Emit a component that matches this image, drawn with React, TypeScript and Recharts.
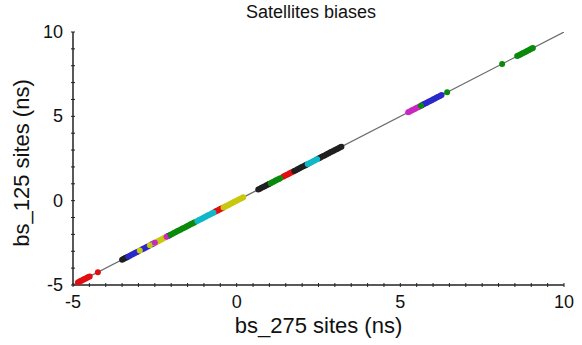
import { ScatterChart, Scatter, XAxis, YAxis } from 'recharts'

// bias pairs (bs_275, bs_125) in ns, grouped by marker colour
const redPts = [
  [-4.85, -4.85], [-4.81, -4.81], [-4.77, -4.77], [-4.73, -4.73], [-4.69, -4.69], [-4.65, -4.65],
  [-4.61, -4.61], [-4.57, -4.57], [-4.53, -4.53], [-4.49, -4.49], [-4.24, -4.24],
  [-0.66, -0.66], [-0.62, -0.62], [-0.58, -0.58], [-0.54, -0.54], [-0.5, -0.5], [-0.46, -0.46], [-0.42, -0.42],
  [1.42, 1.42], [1.47, 1.47], [1.52, 1.52], [1.57, 1.57], [1.62, 1.62], [1.67, 1.67], [1.72, 1.72],
]
const blackPts = [
  [-3.5, -3.5], [-3.46, -3.46], [-3.42, -3.42], [-3.38, -3.38], [-3.34, -3.34],
  [0.66, 0.66], [0.71, 0.71], [0.76, 0.76], [0.81, 0.81], [0.86, 0.86], [0.91, 0.91], [0.96, 0.96], [1.0, 1.0],
  [1.76, 1.76], [1.81, 1.81], [1.86, 1.86], [1.91, 1.91], [1.96, 1.96], [2.01, 2.01], [2.06, 2.06], [2.11, 2.11], [2.15, 2.15],
  [2.5, 2.5], [2.55, 2.55], [2.6, 2.6], [2.65, 2.65], [2.7, 2.7], [2.75, 2.75], [2.8, 2.8], [2.85, 2.85],
  [2.9, 2.9], [2.95, 2.95], [3.0, 3.0], [3.05, 3.05], [3.1, 3.1], [3.15, 3.15], [3.2, 3.2],
]
const bluePts = [
  [-3.31, -3.31], [-3.26, -3.26], [-3.21, -3.21], [-3.16, -3.16], [-3.11, -3.11], [-3.06, -3.06], [-3.01, -3.01],
  [-2.9, -2.9], [-2.85, -2.85], [-2.8, -2.8], [-2.75, -2.75], [-2.7, -2.7], [-2.6, -2.6], [-2.56, -2.56],
  [-2.1, -2.1], [-2.06, -2.06],
  [5.66, 5.66], [5.71, 5.71], [5.76, 5.76], [5.81, 5.81], [5.86, 5.86], [5.91, 5.91], [5.96, 5.96],
  [6.01, 6.01], [6.06, 6.06], [6.11, 6.11], [6.16, 6.16], [6.21, 6.21], [6.26, 6.26],
]
const yellowPts = [
  [-2.96, -2.96], [-2.65, -2.65],
  [-2.52, -2.52], [-2.47, -2.47], [-2.42, -2.42], [-2.37, -2.37], [-2.32, -2.32], [-2.27, -2.27], [-2.22, -2.22], [-2.17, -2.17],
  [-0.4, -0.4], [-0.35, -0.35], [-0.3, -0.3], [-0.25, -0.25], [-0.2, -0.2], [-0.15, -0.15], [-0.1, -0.1],
  [-0.05, -0.05], [0.0, 0.0], [0.05, 0.05], [0.1, 0.1], [0.15, 0.15], [0.2, 0.2],
]
const magentaPts = [
  [-2.5, -2.5], [-2.14, -2.14],
  [5.24, 5.24], [5.29, 5.29], [5.34, 5.34], [5.39, 5.39], [5.44, 5.44], [5.49, 5.49], [5.54, 5.54], [5.59, 5.59],
]
const greenPts = [
  [-2.02, -2.02], [-1.97, -1.97], [-1.92, -1.92], [-1.87, -1.87], [-1.82, -1.82], [-1.77, -1.77], [-1.72, -1.72],
  [-1.67, -1.67], [-1.62, -1.62], [-1.57, -1.57], [-1.52, -1.52], [-1.47, -1.47], [-1.42, -1.42], [-1.37, -1.37],
  [-1.32, -1.32], [-1.28, -1.28],
  [1.04, 1.04], [1.09, 1.09], [1.14, 1.14], [1.19, 1.19], [1.24, 1.24], [1.29, 1.29], [1.33, 1.33],
  [5.63, 5.63], [6.43, 6.43], [8.11, 8.11],
  [8.57, 8.57], [8.62, 8.62], [8.67, 8.67], [8.72, 8.72], [8.77, 8.77], [8.82, 8.82], [8.87, 8.87],
  [8.92, 8.92], [8.97, 8.97], [9.02, 9.02], [9.05, 9.05],
]
const cyanPts = [
  [-1.2, -1.2], [-1.15, -1.15], [-1.1, -1.1], [-1.05, -1.05], [-1.0, -1.0], [-0.95, -0.95], [-0.9, -0.9],
  [-0.85, -0.85], [-0.8, -0.8], [-0.75, -0.75], [-0.71, -0.71],
  [2.17, 2.17], [2.22, 2.22], [2.27, 2.27], [2.32, 2.32], [2.37, 2.37], [2.42, 2.42], [2.46, 2.46],
]
const diagonal = [[-5, -5], [10, 10]]

const xLabelTicks = [-5, 0, 5, 10]
const yLabelTicks = [-5, 0, 5, 10]
const xMinorTicks = [
  -5, -4.5, -4, -3.5, -3, -2.5, -2, -1.5, -1, -0.5, 0, 0.5, 1, 1.5, 2, 2.5, 3, 3.5, 4, 4.5,
  5, 5.5, 6, 6.5, 7, 7.5, 8, 8.5, 9, 9.5, 10,
]
const yMinorTicks = [-5, -4, -3, -2, -1, 0, 1, 2, 3, 4, 5, 6, 7, 8, 9, 10]

const toXY = (pts: number[][]) => pts.map(([x, y]) => ({ x, y }))

const groups = [
  { name: 'red', color: '#e01010', pts: redPts },
  { name: 'black', color: '#202020', pts: blackPts },
  { name: 'blue', color: '#2a2ac8', pts: bluePts },
  { name: 'yellow', color: '#c8c810', pts: yellowPts },
  { name: 'magenta', color: '#c828c0', pts: magentaPts },
  { name: 'green', color: '#0a8a0a', pts: greenPts },
  { name: 'cyan', color: '#10b8c8', pts: cyanPts },
]

const FONT = '"Liberation Sans", Arial, sans-serif'
const TICK_LEN = 4

const Dot = (props: any) => {
  const { cx, cy, fill } = props
  if (cx == null || cy == null) return null
  return <circle cx={cx} cy={cy} r={3} fill={fill} />
}

const NoDot = () => null

const BottomTick = (props: any) => {
  const { x, y, payload } = props
  const v = payload.value
  return (
    <g>
      <line x1={x} y1={y} x2={x} y2={y - TICK_LEN} stroke="#222" strokeWidth={1} />
      {xLabelTicks.includes(v) && (
        <text x={x} y={y + 21} textAnchor="middle" fontSize={18} fontFamily={FONT} fill="#111">
          {v}
        </text>
      )}
    </g>
  )
}

const TopTick = (props: any) => {
  const { x, y } = props
  return <line x1={x} y1={y} x2={x} y2={y + TICK_LEN} stroke="#222" strokeWidth={1} />
}

const LeftTick = (props: any) => {
  const { x, y, payload } = props
  const v = payload.value
  return (
    <g>
      <line x1={x} y1={y} x2={x + TICK_LEN} y2={y} stroke="#222" strokeWidth={1} />
      {yLabelTicks.includes(v) && (
        <text x={x - 8} y={y + 6} textAnchor="end" fontSize={18} fontFamily={FONT} fill="#111">
          {v}
        </text>
      )}
    </g>
  )
}

const RightTick = (props: any) => {
  const { x, y } = props
  return <line x1={x} y1={y} x2={x - TICK_LEN} y2={y} stroke="#222" strokeWidth={1} />
}

export default function App() {
  const axisLine = { stroke: '#222', strokeWidth: 1.5 }
  return (
    <div style={{ position: 'absolute', left: 0, top: 0, width: 582, height: 345, background: '#fff', fontFamily: FONT }}>
      <ScatterChart width={582} height={345} margin={{ top: 32, right: 18, bottom: 30, left: 33 }}>
        <XAxis
          xAxisId="bottom"
          dataKey="x"
          type="number"
          domain={[-5, 10]}
          ticks={xMinorTicks}
          interval={0}
          height={30}
          tickSize={0}
          tickLine={false}
          axisLine={axisLine}
          tick={<BottomTick />}
          allowDataOverflow
        />
        <XAxis
          xAxisId="top"
          orientation="top"
          dataKey="x"
          type="number"
          domain={[-5, 10]}
          ticks={xMinorTicks}
          interval={0}
          height={0}
          tickSize={0}
          tickLine={false}
          axisLine={axisLine}
          tick={<TopTick />}
          allowDataOverflow
        />
        <YAxis
          yAxisId="left"
          dataKey="y"
          type="number"
          domain={[-5, 10]}
          ticks={yMinorTicks}
          interval={0}
          width={40}
          tickSize={0}
          tickLine={false}
          axisLine={axisLine}
          tick={<LeftTick />}
          allowDataOverflow
        />
        <YAxis
          yAxisId="right"
          orientation="right"
          dataKey="y"
          type="number"
          domain={[-5, 10]}
          ticks={yMinorTicks}
          interval={0}
          width={0}
          tickSize={0}
          tickLine={false}
          axisLine={axisLine}
          tick={<RightTick />}
          allowDataOverflow
        />
        <Scatter
          xAxisId="bottom"
          yAxisId="left"
          data={toXY(diagonal)}
          line={{ stroke: '#6a6a6a', strokeWidth: 1.2 }}
          shape={<NoDot />}
          isAnimationActive={false}
        />
        {groups.map((g) => (
          <Scatter
            key={g.name}
            xAxisId="bottom"
            yAxisId="left"
            data={toXY(g.pts)}
            fill={g.color}
            shape={<Dot />}
            isAnimationActive={false}
          />
        ))}
      </ScatterChart>
      <div style={{ position: 'absolute', left: 0, width: 622, top: 2, textAlign: 'center', fontSize: 18, color: '#111' }}>
        Satellites biases
      </div>
      <div style={{ position: 'absolute', left: 73, width: 491, top: 313, textAlign: 'center', fontSize: 22, color: '#111' }}>
        bs_275 sites (ns)
      </div>
      <div
        style={{
          position: 'absolute',
          left: 22,
          top: 163,
          width: 220,
          marginLeft: -110,
          marginTop: -13,
          textAlign: 'center',
          fontSize: 22,
          lineHeight: '26px',
          color: '#111',
          transform: 'rotate(-90deg)',
        }}
      >
        bs_125 sites (ns)
      </div>
    </div>
  )
}
